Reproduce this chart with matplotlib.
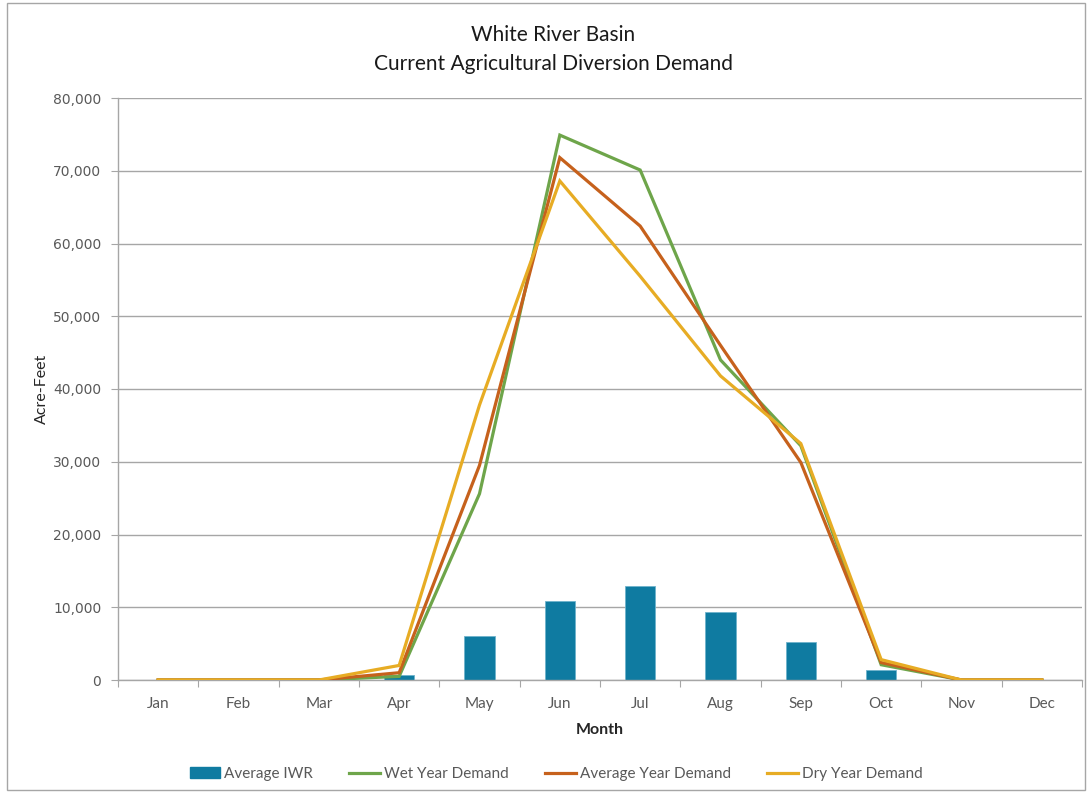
import matplotlib
matplotlib.use("Agg")
import matplotlib.pyplot as plt
from matplotlib.patches import Rectangle, Patch
from matplotlib.lines import Line2D
from matplotlib.ticker import FuncFormatter, FixedLocator, NullFormatter
import numpy as np

months = ["Jan", "Feb", "Mar", "Apr", "May", "Jun",
          "Jul", "Aug", "Sep", "Oct", "Nov", "Dec"]
avg_iwr = [0, 0, 0, 650, 6000, 10870, 12890, 9310, 5180, 1400, 0, 0]
wet_demand = [0, 0, 0, 500, 25600, 74900, 70100, 44000, 32200, 2100, 0, 0]
avg_demand = [0, 0, 0, 1000, 29500, 71800, 62400, 46000, 29900, 2400, 0, 0]
dry_demand = [0, 0, 0, 2000, 37800, 68600, 55500, 41800, 32500, 2800, 0, 0]
y_ticks = [0, 10000, 20000, 30000, 40000, 50000, 60000, 70000, 80000]

BAR = "#0F7BA1"
GREEN = "#6EA54A"
ORANGE = "#C6611C"
GOLD = "#E7AC24"
GRID = "#A6A6A6"
TXT = "#595959"

W, H = 1088, 793
fig = plt.figure(figsize=(W / 100, H / 100), dpi=100)
ax = fig.add_axes([118 / W, 1 - 680 / H, (1082 - 118) / W, (680 - 98) / H])

x = np.arange(len(months))
ax.bar(x, avg_iwr, width=0.38, color=BAR, edgecolor="#6FB3CC",
       linewidth=0.6, zorder=2, label="Average IWR")
ax.plot(x, wet_demand, color=GREEN, lw=2.3, zorder=3,
        solid_joinstyle="miter", label="Wet Year Demand")
ax.plot(x, avg_demand, color=ORANGE, lw=2.3, zorder=4,
        solid_joinstyle="miter", label="Average Year Demand")
ax.plot(x, dry_demand, color=GOLD, lw=2.3, zorder=5,
        solid_joinstyle="miter", label="Dry Year Demand")

ax.set_xlim(-0.5, len(months) - 0.5)
ax.set_ylim(0, 80000)

# y axis
ax.set_yticks(y_ticks)
ax.yaxis.set_major_formatter(FuncFormatter(lambda v, p: f"{int(v):,}"))
ax.tick_params(axis="y", direction="out", length=5, width=0.8, color=GRID,
               labelcolor=TXT, labelsize=10, pad=7)
for lbl in ax.get_yticklabels():
    lbl.set_family("DejaVu Sans")
ax.grid(axis="y", color=GRID, lw=1.0, zorder=0)
ax.set_axisbelow(True)

# x axis: labels at category centres, ticks on category boundaries
ax.xaxis.set_major_locator(FixedLocator(x))
ax.set_xticklabels(months, family="Lato", fontsize=11, color=TXT)
ax.tick_params(axis="x", which="major", length=0, pad=12)
ax.xaxis.set_minor_locator(FixedLocator(np.arange(-0.5, len(months), 1.0)))
ax.xaxis.set_minor_formatter(NullFormatter())
ax.tick_params(axis="x", which="minor", direction="out", length=5,
               width=0.8, color=GRID)

for side in ("top", "right"):
    ax.spines[side].set_visible(False)
for side in ("left", "bottom"):
    ax.spines[side].set_color(GRID)
    ax.spines[side].set_linewidth(1.0)

ax.set_xlabel("Month", family="Lato", fontsize=11.5, fontweight="bold",
              color="#262626", labelpad=9)
ax.set_ylabel("Acre-Feet", family="Lato", fontsize=11.5, color="#262626",
              labelpad=3)

fig.text(553 / W, 1 - 35 / H, "White River Basin", ha="center", va="center",
         family="Lato", fontsize=15, color="#1a1a1a")
fig.text(553 / W, 1 - 64 / H, "Current Agricultural Diversion Demand",
         ha="center", va="center", family="Lato", fontsize=15,
         color="#1a1a1a")

handles = [
    Patch(facecolor=BAR, edgecolor=BAR),
    Line2D([], [], color=GREEN, lw=2.3),
    Line2D([], [], color=ORANGE, lw=2.3),
    Line2D([], [], color=GOLD, lw=2.3),
]
labels = ["Average IWR", "Wet Year Demand", "Average Year Demand",
          "Dry Year Demand"]
fig.legend(handles, labels, loc="center", bbox_to_anchor=(556 / W, 1 - 774 / H),
           ncol=4, frameon=False, handlelength=2.0, handleheight=0.7,
           handletextpad=0.25, columnspacing=2.4,
           prop={"family": "Lato", "size": 11}, labelcolor=TXT)

# chart border
fig.patches.append(Rectangle((7 / W, 3 / H), (1085 - 7) / W, (790 - 3) / H,
                             transform=fig.transFigure, fill=False,
                             edgecolor="#A6A6A6", lw=1.0))

fig.savefig("out.png", dpi=100, facecolor="white")
